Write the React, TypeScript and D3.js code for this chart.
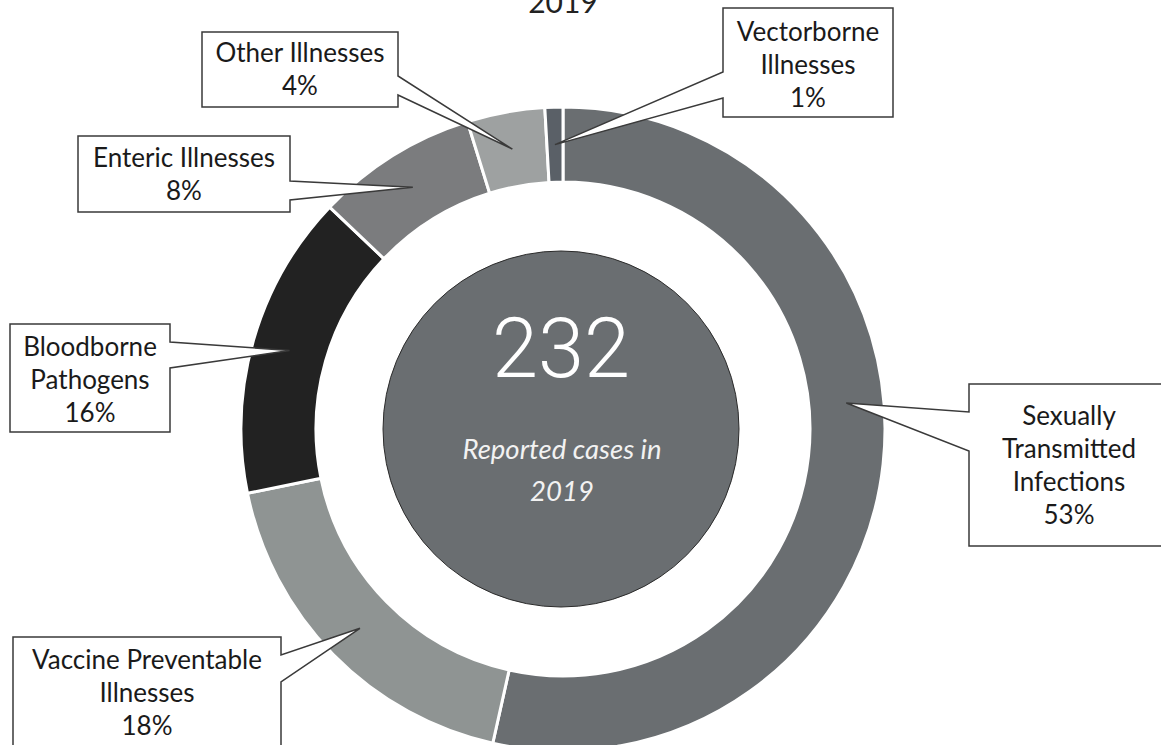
import React from "react";
import * as d3 from "d3";

const categories = [
  "Sexually Transmitted Infections",
  "Vaccine Preventable Illnesses",
  "Bloodborne Pathogens",
  "Enteric Illnesses",
  "Other Illnesses",
  "Vectorborne Illnesses",
];
const shares = [53.5, 18.3, 15.3, 8.1, 3.9, 0.9];
const labelLines = [
  ["Sexually", "Transmitted", "Infections", "53%"],
  ["Vaccine Preventable", "Illnesses", "18%"],
  ["Bloodborne", "Pathogens", "16%"],
  ["Enteric Illnesses", "8%"],
  ["Other Illnesses", "4%"],
  ["Vectorborne", "Illnesses", "1%"],
];
const totalCases = "232";
const centerCaption = ["Reported cases in", "2019"];
const titleText = "2019";

const colors = ["#6a6e71", "#8f9493", "#222222", "#7b7c7e", "#9ea1a1", "#5a6067"];

// callout box layout: box rect, wedge side and wedge base range, tip position along slice
const boxes = [
  { x0: 969, y0: 384, x1: 1172, y1: 546, side: "left", w0: 412, w1: 451, tipFrac: 0.44, tx: 1069, ty: 416 },
  { x0: 13, y0: 637, x1: 281, y1: 752, side: "right", w0: 655, w1: 682, tipFrac: 0.5, tx: 147, ty: 660 },
  { x0: 10, y0: 324, x1: 170, y1: 432, side: "right", w0: 342, w1: 368, tipFrac: 0.5, tx: 90, ty: 347 },
  { x0: 78, y0: 136, x1: 290, y1: 212, side: "right", w0: 181, w1: 200, tipFrac: 0.5, tx: 184, ty: 158 },
  { x0: 202, y0: 32, x1: 398, y1: 107, side: "right", w0: 76, w1: 95, tipFrac: 0.5, tx: 300, ty: 53 },
  { x0: 723, y0: 8, x1: 893, y1: 117, side: "left", w0: 72, w1: 98, tipFrac: 0.5, tx: 808, ty: 32 },
];

const W = 1161;
const H = 745;
const cx = 563;
const cy = 429;
const R = 322;
const r = 247;
const lineH = 33;

export default function App() {
  const pie = d3.pie<number>().sort(null).value((d) => d);
  const arcs = pie(shares);
  const arcGen = d3.arc<d3.PieArcDatum<number>>().innerRadius(r).outerRadius(R);
  const midR = (r + R) / 2;

  const tips = arcs.map((a, i) => {
    const ang = a.startAngle + (a.endAngle - a.startAngle) * boxes[i].tipFrac;
    return [cx + midR * Math.sin(ang), cy - midR * Math.cos(ang)];
  });

  const calloutPath = (b: any, tip: number[]) => {
    const p = d3.path();
    if (b.side === "right") {
      p.moveTo(b.x0, b.y0);
      p.lineTo(b.x1, b.y0);
      p.lineTo(b.x1, b.w0);
      p.lineTo(tip[0], tip[1]);
      p.lineTo(b.x1, b.w1);
      p.lineTo(b.x1, b.y1);
      p.lineTo(b.x0, b.y1);
      p.closePath();
    } else {
      p.moveTo(b.x0, b.y0);
      p.lineTo(b.x1, b.y0);
      p.lineTo(b.x1, b.y1);
      p.lineTo(b.x0, b.y1);
      p.lineTo(b.x0, b.w1);
      p.lineTo(tip[0], tip[1]);
      p.lineTo(b.x0, b.w0);
      p.closePath();
    }
    return p.toString();
  };

  return (
    <svg
      width={W}
      height={H}
      style={{ position: "absolute", left: 0, top: 0, display: "block", background: "#fff" }}
    >
      <text
        x={cx}
        y={13}
        textAnchor="middle"
        fontFamily="Lato"
        fontSize={30}
        fill="#222"
      >
        {titleText}
      </text>
      <g transform={`translate(${cx},${cy})`}>
        {arcs.map((a, i) => (
          <path key={categories[i]} d={arcGen(a) || ""} fill={colors[i]} stroke="#fff" strokeWidth={3} />
        ))}
      </g>
      <circle cx={561} cy={cy} r={178} fill="#6a6e71" stroke="#2a2a2a" strokeWidth={1} />
      <text x={561} y={377} textAnchor="middle" fontFamily="Roboto" fontWeight={300} fontSize={83} fill="#fff">
        {totalCases}
      </text>
      {centerCaption.map((t, i) => (
        <text
          key={t}
          x={562}
          y={459 + i * 42}
          textAnchor="middle"
          fontFamily="Lato"
          fontStyle="italic"
          fontSize={27.5}
          fill="#f2f2f2"
        >
          {t}
        </text>
      ))}
      {boxes.map((b, i) => (
        <g key={categories[i] + "-label"}>
          <path d={calloutPath(b, tips[i])} fill="#fff" stroke="#3a3a3a" strokeWidth={1.5} />
          {labelLines[i].map((t, j) => (
            <text
              key={j}
              x={b.tx}
              y={b.ty + j * lineH + 9}
              textAnchor="middle"
              fontFamily="Lato"
              fontSize={26}
              fill="#1a1a1a"
            >
              {t}
            </text>
          ))}
        </g>
      ))}
    </svg>
  );
}
